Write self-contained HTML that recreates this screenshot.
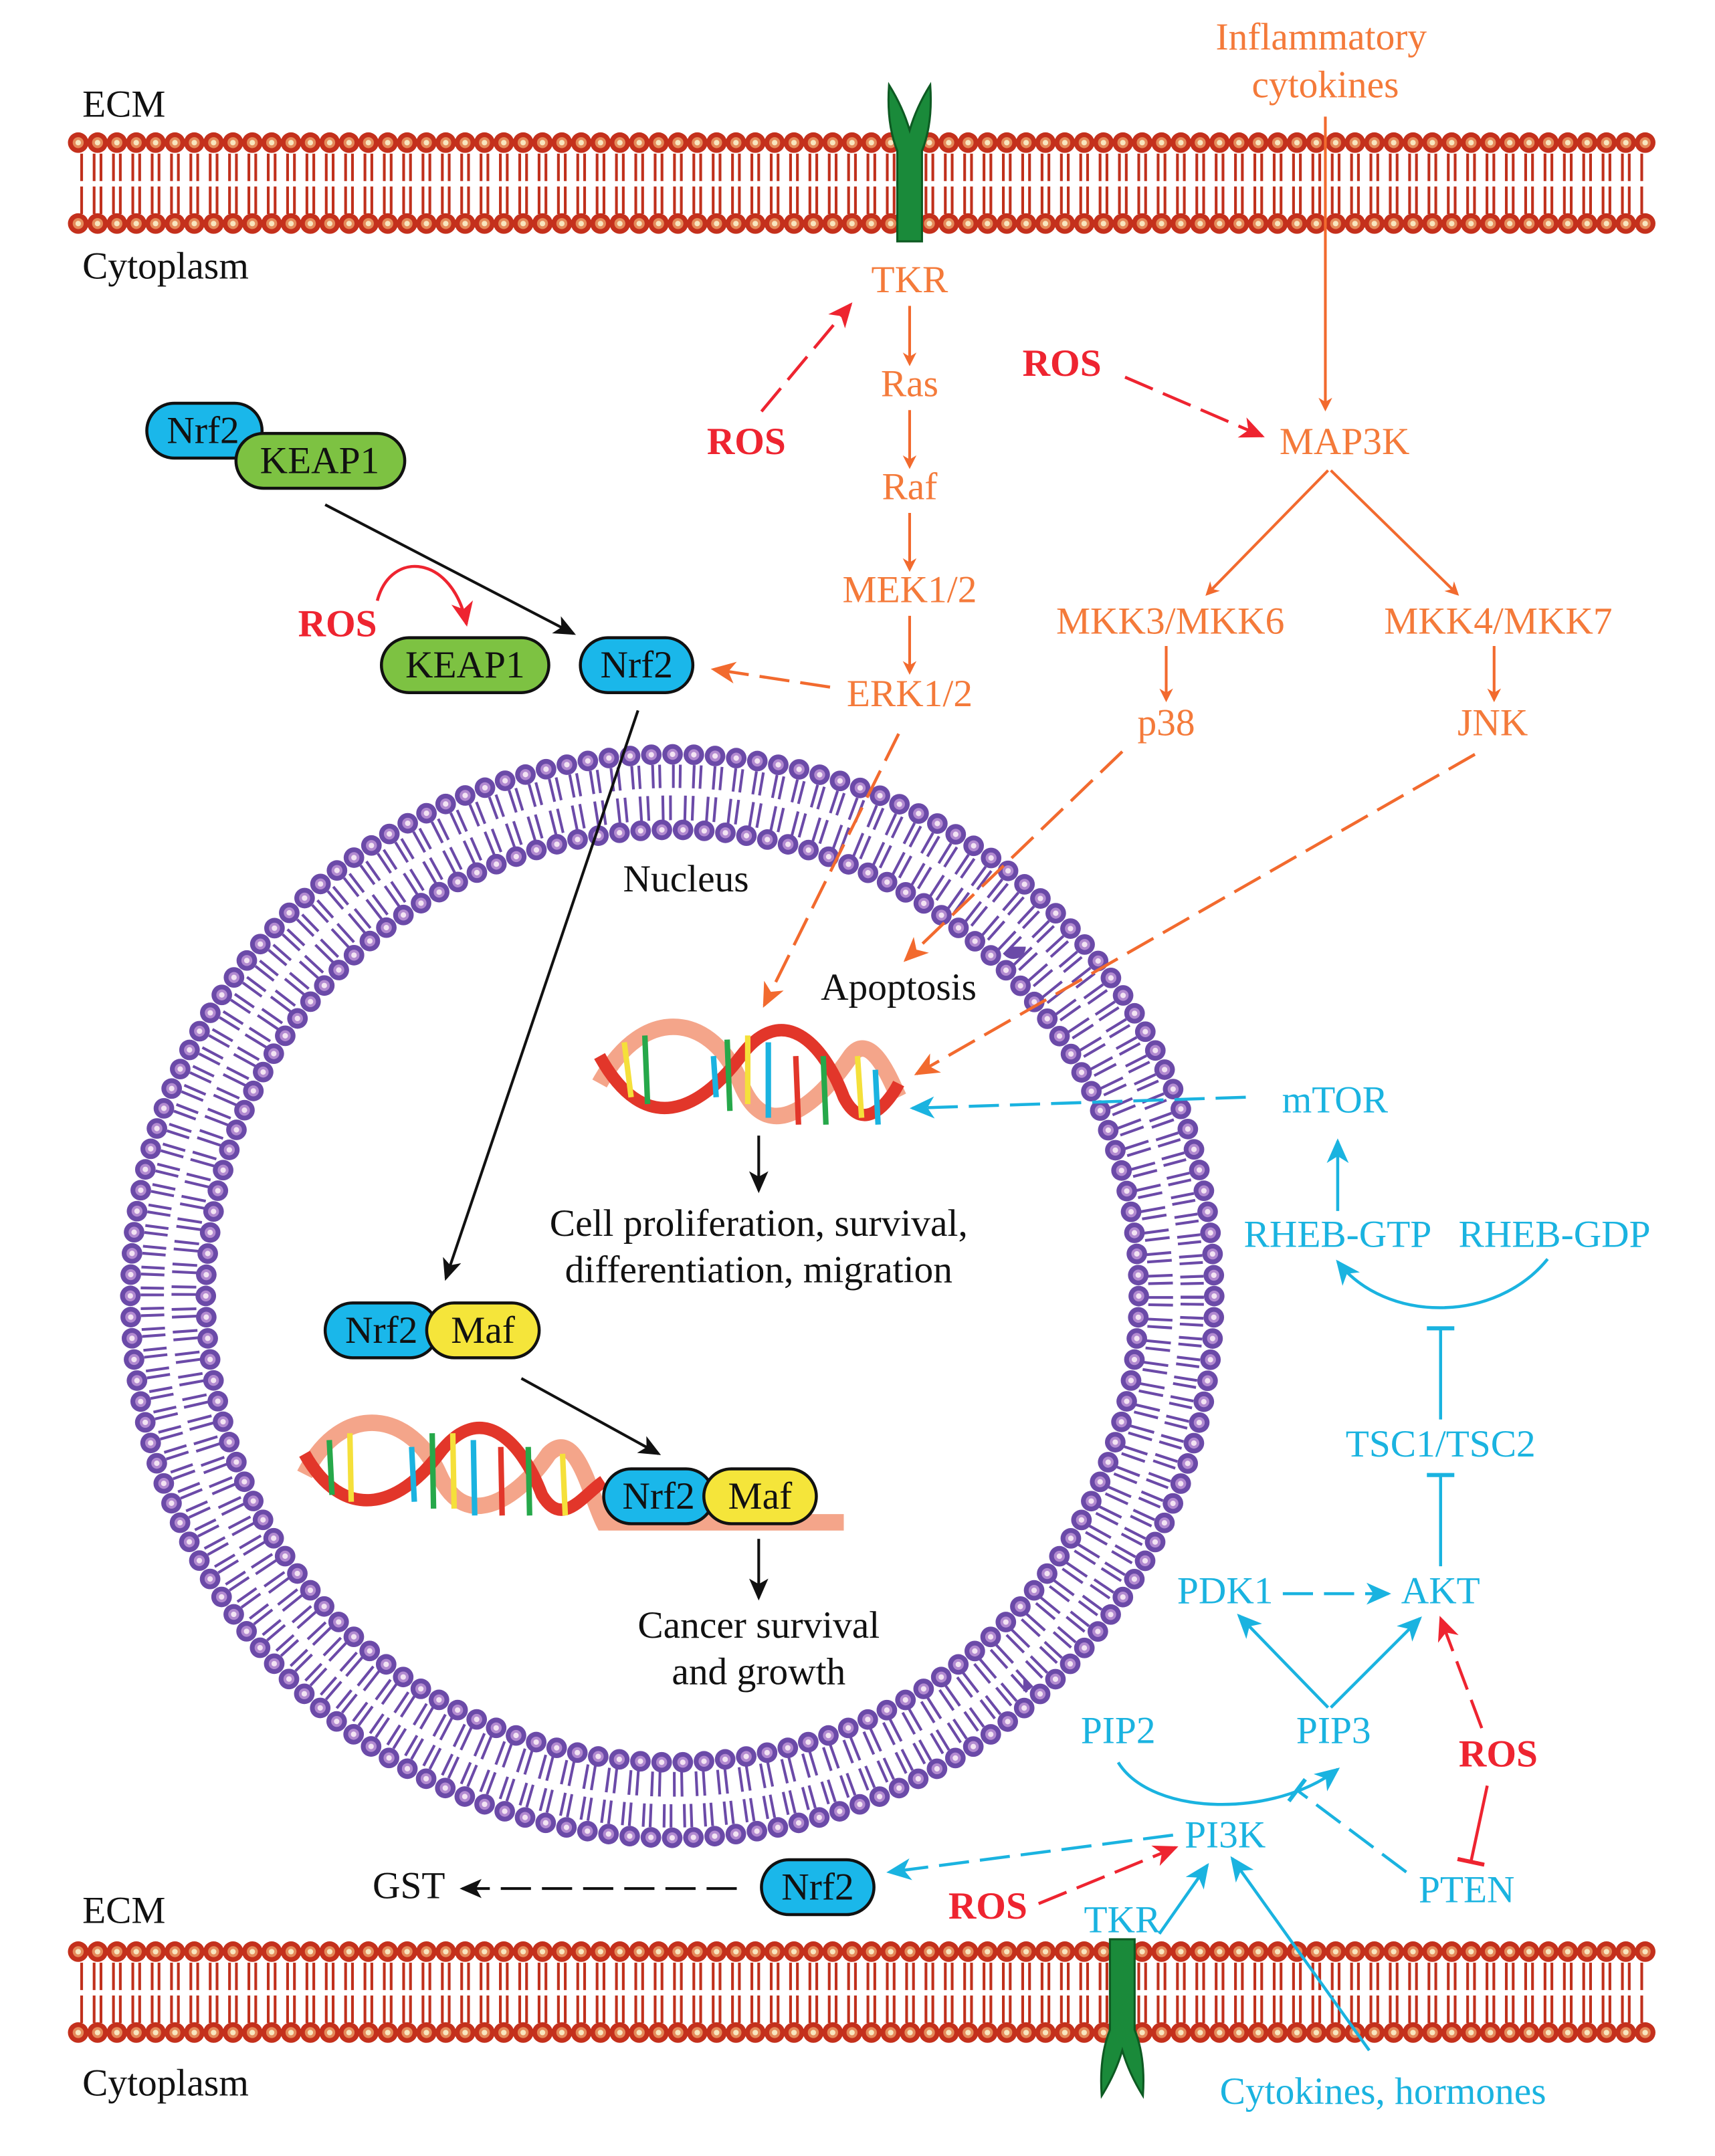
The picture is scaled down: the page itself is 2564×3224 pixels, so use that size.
<!DOCTYPE html>
<html><head><meta charset="utf-8"><style>
html,body{margin:0;padding:0;background:#fff;}
svg{display:block;}
text{font-family:"Liberation Serif",serif;font-size:28px;}
.o{fill:#f47a3a;} .c{fill:#1ab3e0;} .r{fill:#ee2430;font-weight:bold;} .k{fill:#111;}
</style></head><body>
<svg width="2564" height="3224" viewBox="0 0 1250 1572" preserveAspectRatio="none" xmlns="http://www.w3.org/2000/svg">
<defs>
<marker id="ao" markerWidth="10" markerHeight="10" refX="8" refY="5" orient="auto" markerUnits="userSpaceOnUse"><path d="M0,0 L10,5 L0,10 L3,5Z" fill="#f26a2e"/></marker>
<marker id="aO" markerWidth="18" markerHeight="16" refX="16" refY="8" orient="auto" markerUnits="userSpaceOnUse"><path d="M0,0 L18,8 L0,16 L5,8Z" fill="#f26a2e"/></marker>
<marker id="ac" markerWidth="18" markerHeight="16" refX="16" refY="8" orient="auto" markerUnits="userSpaceOnUse"><path d="M0,0 L18,8 L0,16 L5,8Z" fill="#1ab3e0"/></marker>
<marker id="ar" markerWidth="18" markerHeight="16" refX="16" refY="8" orient="auto" markerUnits="userSpaceOnUse"><path d="M0,0 L18,8 L0,16 L5,8Z" fill="#ee2430"/></marker>
<marker id="ak" markerWidth="16" markerHeight="14" refX="14" refY="7" orient="auto" markerUnits="userSpaceOnUse"><path d="M0,0 L16,7 L0,14 L4,7Z" fill="#111"/></marker>
<marker id="tc" markerWidth="4" markerHeight="20" refX="2" refY="10" orient="auto" markerUnits="userSpaceOnUse"><rect x="0" y="0" width="3" height="20" fill="#1ab3e0"/></marker>
<marker id="tr" markerWidth="4" markerHeight="20" refX="2" refY="10" orient="auto" markerUnits="userSpaceOnUse"><rect x="0" y="0" width="3" height="20" fill="#ee2430"/></marker>
</defs>

<g id="mem">
<line x1="57" y1="122" x2="1200" y2="122" stroke="#c0301c" stroke-width="20" stroke-dasharray="2 3 2 7.1" stroke-dashoffset="3.5"/>
<line x1="57" y1="146" x2="1200" y2="146" stroke="#c0301c" stroke-width="20" stroke-dasharray="2 3 2 7.1" stroke-dashoffset="3.5"/>
<line x1="57" y1="104" x2="1200" y2="104" stroke="#c4301c" stroke-width="15" stroke-linecap="round" stroke-dasharray="0 14.1"/>
<line x1="57" y1="104" x2="1200" y2="104" stroke="#e58a5a" stroke-width="8" stroke-linecap="round" stroke-dasharray="0 14.1"/>
<line x1="57" y1="104" x2="1200" y2="104" stroke="#f8e6bf" stroke-width="4" stroke-linecap="round" stroke-dasharray="0 14.1"/>
<line x1="57" y1="163" x2="1200" y2="163" stroke="#c4301c" stroke-width="15" stroke-linecap="round" stroke-dasharray="0 14.1"/>
<line x1="57" y1="163" x2="1200" y2="163" stroke="#e58a5a" stroke-width="8" stroke-linecap="round" stroke-dasharray="0 14.1"/>
<line x1="57" y1="163" x2="1200" y2="163" stroke="#f8e6bf" stroke-width="4" stroke-linecap="round" stroke-dasharray="0 14.1"/>
</g>
<use href="#mem" transform="translate(0,1319)"/>

<path d="M654,176 L654,110 Q646,90 648,62 Q658,78 663,95 Q668,78 678,62 Q680,90 672,110 L672,176Z" fill="#1a8a3a" stroke="#0d5a22" stroke-width="1.5"/>
<path d="M809,1414 L809,1480 Q801,1500 803,1528 Q813,1512 818,1495 Q823,1512 833,1528 Q835,1500 827,1480 L827,1414Z" fill="#1a8a3a" stroke="#0d5a22" stroke-width="1.5"/>

<g transform="translate(490,945)" fill="none">
<circle r="379" stroke="#6b4aa8" stroke-width="17" stroke-dasharray="2 3 2 7.88"/>
<circle r="356" stroke="#6b4aa8" stroke-width="18" stroke-dasharray="2 3.5 2 8.71"/>
<circle r="395" stroke="#6b4aa8" stroke-width="15" stroke-linecap="round" stroke-dasharray="0 15.512"/>
<circle r="395" stroke="#b28ad0" stroke-width="8" stroke-linecap="round" stroke-dasharray="0 15.512"/>
<circle r="395" stroke="#f3e3f3" stroke-width="4" stroke-linecap="round" stroke-dasharray="0 15.512"/>
<circle r="340" stroke="#6b4aa8" stroke-width="15" stroke-linecap="round" stroke-dasharray="0 15.48"/>
<circle r="340" stroke="#b28ad0" stroke-width="8" stroke-linecap="round" stroke-dasharray="0 15.48"/>
<circle r="340" stroke="#f3e3f3" stroke-width="4" stroke-linecap="round" stroke-dasharray="0 15.48"/>
</g>

<text x="60" y="85" class="k">ECM</text>
<text x="60" y="203" class="k">Cytoplasm</text>
<text x="60" y="1402" class="k">ECM</text>
<text x="60" y="1528" class="k">Cytoplasm</text>
<text x="500" y="650" class="k" text-anchor="middle">Nucleus</text>
<text x="655" y="729" class="k" text-anchor="middle">Apoptosis</text>
<text x="553" y="901" class="k" text-anchor="middle">Cell proliferation, survival,</text>
<text x="553" y="935" class="k" text-anchor="middle">differentiation, migration</text>
<text x="553" y="1194" class="k" text-anchor="middle">Cancer survival</text>
<text x="553" y="1228" class="k" text-anchor="middle">and growth</text>
<text x="298" y="1384" class="k" text-anchor="middle">GST</text>

<g class="o" text-anchor="middle">
<text x="963" y="36">Inflammatory</text>
<text x="966" y="71">cytokines</text>
<text x="663" y="213">TKR</text>
<text x="663" y="289">Ras</text>
<text x="663" y="364">Raf</text>
<text x="663" y="439">MEK1/2</text>
<text x="663" y="515">ERK1/2</text>
<text x="980" y="331">MAP3K</text>
<text x="853" y="462">MKK3/MKK6</text>
<text x="1092" y="462">MKK4/MKK7</text>
<text x="850" y="536">p38</text>
<text x="1088" y="536">JNK</text>
</g>
<g stroke="#f26a2e" stroke-width="2" fill="none">
<line x1="966" y1="85" x2="966" y2="298" marker-end="url(#ao)"/>
<line x1="663" y1="223" x2="663" y2="265" marker-end="url(#ao)"/>
<line x1="663" y1="299" x2="663" y2="340" marker-end="url(#ao)"/>
<line x1="663" y1="374" x2="663" y2="415" marker-end="url(#ao)"/>
<line x1="663" y1="449" x2="663" y2="490" marker-end="url(#ao)"/>
<line x1="968" y1="343" x2="880" y2="433" marker-end="url(#ao)"/>
<line x1="970" y1="343" x2="1062" y2="433" marker-end="url(#ao)"/>
<line x1="850" y1="471" x2="850" y2="510" marker-end="url(#ao)"/>
<line x1="1089" y1="471" x2="1089" y2="510" marker-end="url(#ao)"/>
<g stroke-dasharray="22 8" stroke-width="2.2">
<line x1="655" y1="535" x2="557" y2="733" marker-end="url(#aO)"/>
<line x1="818" y1="548" x2="660" y2="700" marker-end="url(#aO)"/>
<line x1="1075" y1="550" x2="668" y2="783" marker-end="url(#aO)"/>
<line x1="605" y1="501" x2="520" y2="488" marker-end="url(#aO)"/>
</g>
</g>

<g class="r" text-anchor="middle">
<text x="544" y="331">ROS</text>
<text x="774" y="274">ROS</text>
<text x="246" y="464">ROS</text>
<text x="1092" y="1288">ROS</text>
<text x="720" y="1399">ROS</text>
</g>
<g stroke="#ee2430" stroke-width="2.2" fill="none">
<line x1="555" y1="300" x2="620" y2="222" stroke-dasharray="22 8" marker-end="url(#ar)"/>
<line x1="820" y1="275" x2="920" y2="318" stroke-dasharray="22 8" marker-end="url(#ar)"/>
<path d="M275,438 C285,400 330,405 340,455" marker-end="url(#ar)"/>
<line x1="1080" y1="1260" x2="1050" y2="1180" stroke-dasharray="22 8" marker-end="url(#ar)"/>
<line x1="1084" y1="1302" x2="1072" y2="1358" marker-end="url(#tr)"/>
<line x1="757" y1="1388" x2="857" y2="1347" stroke-dasharray="22 8" marker-end="url(#ar)"/>
</g>

<g class="c" text-anchor="middle">
<text x="973" y="811">mTOR</text>
<text x="975" y="909">RHEB-GTP</text>
<text x="1133" y="909">RHEB-GDP</text>
<text x="1050" y="1062">TSC1/TSC2</text>
<text x="1050" y="1169">AKT</text>
<text x="893" y="1169">PDK1</text>
<text x="972" y="1271">PIP3</text>
<text x="815" y="1271">PIP2</text>
<text x="893" y="1347">PI3K</text>
<text x="1069" y="1387">PTEN</text>
<text x="818" y="1409">TKR</text>
<text x="1008" y="1534">Cytokines, hormones</text>
</g>
<g stroke="#1ab3e0" stroke-width="2.2" fill="none">
<line x1="908" y1="800" x2="665" y2="808" stroke-dasharray="22 8" marker-end="url(#ac)"/>
<line x1="975" y1="883" x2="975" y2="832" marker-end="url(#ac)"/>
<path d="M1128,918 C1090,965 1010,965 975,920" marker-end="url(#ac)"/>
<line x1="1050" y1="1035" x2="1050" y2="968" marker-end="url(#tc)"/>
<line x1="1050" y1="1142" x2="1050" y2="1075" marker-end="url(#tc)"/>
<line x1="935" y1="1162" x2="1012" y2="1162" stroke-dasharray="22 8" marker-end="url(#ac)"/>
<line x1="968" y1="1245" x2="903" y2="1178" marker-end="url(#ac)"/>
<line x1="970" y1="1245" x2="1035" y2="1180" marker-end="url(#ac)"/>
<path d="M815,1285 C840,1325 930,1325 975,1290" marker-end="url(#ac)"/>
<line x1="1025" y1="1365" x2="945" y2="1305" stroke-dasharray="22 8" marker-end="url(#tc)"/>
<line x1="855" y1="1338" x2="648" y2="1365" stroke-dasharray="22 8" marker-end="url(#ac)"/>
<line x1="845" y1="1410" x2="880" y2="1360" marker-end="url(#ac)"/>
<line x1="998" y1="1495" x2="898" y2="1355" marker-end="url(#ac)"/>
</g>

<g stroke="#111" stroke-width="2" fill="none">
<line x1="237" y1="368" x2="418" y2="462" marker-end="url(#ak)"/>
<line x1="465" y1="518" x2="325" y2="932" marker-end="url(#ak)"/>
<line x1="553" y1="828" x2="553" y2="868" marker-end="url(#ak)"/>
<line x1="380" y1="1005" x2="480" y2="1060" marker-end="url(#ak)"/>
<line x1="553" y1="1122" x2="553" y2="1165" marker-end="url(#ak)"/>
<line x1="537" y1="1377" x2="337" y2="1377" stroke-dasharray="22 8" marker-end="url(#ak)"/>
</g>

<g>
<path d="M437,790 C470,730 520,740 540,790 C560,840 600,800 620,770 C635,750 650,790 655,800" stroke="#f4a58a" stroke-width="12" fill="none"/>
<path d="M437,770 C470,830 510,810 540,770 C570,730 600,760 615,800 C630,830 650,800 655,790" stroke="#e2362a" stroke-width="9" fill="none"/>
<g stroke-width="4">
<line x1="455" y1="760" x2="460" y2="800" stroke="#f5e03a"/><line x1="470" y1="755" x2="472" y2="805" stroke="#26a84a"/>
<line x1="520" y1="770" x2="522" y2="800" stroke="#1ab3e0"/><line x1="530" y1="758" x2="532" y2="810" stroke="#26a84a"/>
<line x1="545" y1="755" x2="545" y2="805" stroke="#f5e03a"/><line x1="560" y1="760" x2="560" y2="815" stroke="#1ab3e0"/>
<line x1="580" y1="770" x2="582" y2="820" stroke="#e2362a"/><line x1="600" y1="770" x2="602" y2="820" stroke="#26a84a"/>
<line x1="625" y1="770" x2="628" y2="815" stroke="#f5e03a"/><line x1="638" y1="780" x2="640" y2="820" stroke="#1ab3e0"/>
</g>
</g>
<g>
<path d="M222,1075 C250,1020 300,1030 320,1075 C340,1120 380,1090 400,1060 C420,1040 430,1090 440,1110 L615,1110" stroke="#f4a58a" stroke-width="12" fill="none"/>
<path d="M222,1060 C250,1110 290,1100 320,1060 C350,1020 380,1050 395,1090 C410,1115 425,1090 440,1080" stroke="#e2362a" stroke-width="9" fill="none"/>
<g stroke-width="4">
<line x1="240" y1="1050" x2="242" y2="1090" stroke="#26a84a"/><line x1="255" y1="1045" x2="256" y2="1095" stroke="#f5e03a"/>
<line x1="300" y1="1055" x2="302" y2="1095" stroke="#1ab3e0"/><line x1="315" y1="1045" x2="316" y2="1100" stroke="#26a84a"/>
<line x1="330" y1="1045" x2="331" y2="1100" stroke="#f5e03a"/><line x1="345" y1="1050" x2="346" y2="1105" stroke="#1ab3e0"/>
<line x1="365" y1="1055" x2="366" y2="1105" stroke="#e2362a"/><line x1="385" y1="1055" x2="386" y2="1105" stroke="#26a84a"/>
<line x1="410" y1="1060" x2="412" y2="1105" stroke="#f5e03a"/>
</g>
</g>

<g stroke="#111" stroke-width="2.2">
<rect x="107" y="294" width="84" height="40" rx="20" fill="#1ab7ea"/>
<rect x="172" y="316" width="123" height="40" rx="20" fill="#7dc242"/>
<rect x="278" y="465" width="122" height="40" rx="20" fill="#7dc242"/>
<rect x="423" y="465" width="82" height="40" rx="20" fill="#1ab7ea"/>
<rect x="237" y="950" width="82" height="40" rx="20" fill="#1ab7ea"/>
<rect x="311" y="950" width="82" height="40" rx="20" fill="#f5e53a"/>
<rect x="440" y="1071" width="80" height="40" rx="20" fill="#1ab7ea"/>
<rect x="513" y="1071" width="82" height="40" rx="20" fill="#f5e53a"/>
<rect x="555" y="1356" width="82" height="40" rx="20" fill="#1ab7ea"/>
</g>
<g class="k" text-anchor="middle">
<text x="148" y="323">Nrf2</text>
<text x="233" y="345">KEAP1</text>
<text x="339" y="494">KEAP1</text>
<text x="464" y="494">Nrf2</text>
<text x="278" y="979">Nrf2</text>
<text x="352" y="979">Maf</text>
<text x="480" y="1100">Nrf2</text>
<text x="554" y="1100">Maf</text>
<text x="596" y="1385">Nrf2</text>
</g>
</svg>
</body></html>
